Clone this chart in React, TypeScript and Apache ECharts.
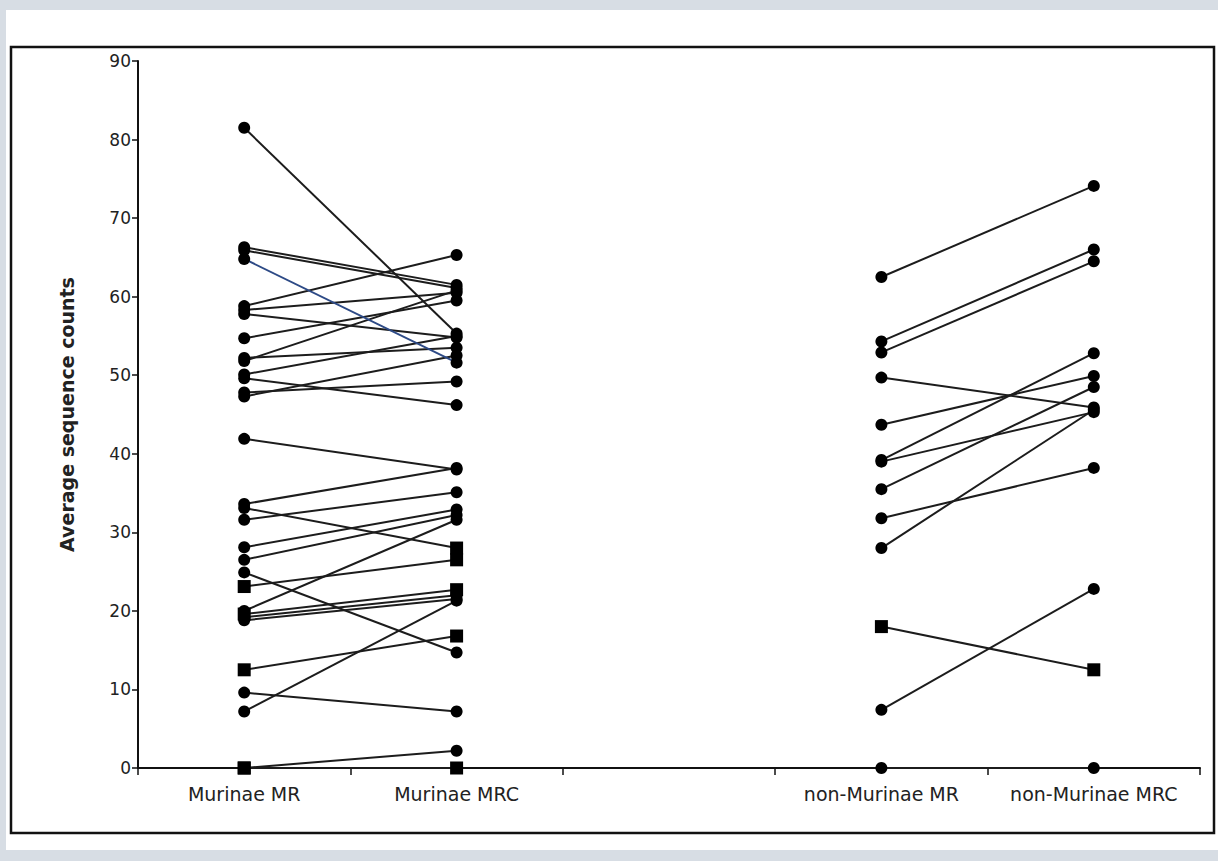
import React, { useEffect, useRef } from "react";
import * as echarts from "echarts";

const categories = ["Murinae MR", "Murinae MRC", "", "non-Murinae MR", "non-Murinae MRC"];

// Murinae pairs (MR -> MRC)
const murinaeMR = [81.5, 66.3, 65.9, 64.8, 58.8, 58.3, 57.8, 54.7, 52.2, 51.8, 50.1, 49.6, 47.8, 47.3, 41.9, 33.6, 33.1, 31.6, 28.1, 26.5, 24.9, 23.1, 20.0, 19.6, 19.2, 18.8, 12.5, 9.6, 7.2, 0, 0];
const murinaeMRC = [55.3, 61.5, 61.1, 51.6, 65.3, 60.5, 54.8, 59.5, 53.5, 60.8, 55.0, 46.2, 49.2, 52.5, 38.0, 38.2, 28.0, 35.1, 32.9, 32.2, 14.7, 26.5, 31.6, 22.7, 22.0, 21.5, 16.8, 7.2, 21.3, 2.2, 0];
const murinaeSquareMR = [21, 23, 26, 29, 30];
const murinaeSquareMRC = [16, 21, 23, 26, 30];
const murinaeBlue = [3];

// non-Murinae pairs (MR -> MRC)
const nonMurinaeMR = [62.5, 54.3, 52.9, 49.7, 43.7, 39.2, 39.0, 35.5, 31.8, 28.0, 18.0, 7.4, 0];
const nonMurinaeMRC = [74.1, 66.0, 64.5, 45.9, 49.9, 52.8, 45.3, 48.5, 38.2, 45.6, 12.5, 22.8, 0];
const nonMurinaeSquareMR = [10];
const nonMurinaeSquareMRC = [10];

const yTicks = [0, 10, 20, 30, 40, 50, 60, 70, 80, 90];

const FONT = "DejaVu Sans";

function pairSeries(
  a: number[],
  b: number[],
  xa: number,
  xb: number,
  sqA: number[],
  sqB: number[],
  blue: number[],
  prefix: string
) {
  return a.map((v, i) => ({
    name: prefix + " " + (i + 1),
    type: "line",
    symbolSize: 12,
    lineStyle: { color: blue.includes(i) ? "#2d4a86" : "#1c1c1c", width: 2 },
    itemStyle: { color: "#000" },
    z: blue.includes(i) ? 3 : 2,
    data: [
      { value: [xa, v], symbol: sqA.includes(i) ? "rect" : "circle", symbolSize: sqA.includes(i) ? 13 : 12 },
      { value: [xb, b[i]], symbol: sqB.includes(i) ? "rect" : "circle", symbolSize: sqB.includes(i) ? 13 : 12 },
    ],
  }));
}

export default function App() {
  const ref = useRef<HTMLDivElement>(null);
  useEffect(() => {
    if (!ref.current) return;
    const chart = echarts.init(ref.current, undefined, { renderer: "svg" });
    const series = [
      ...pairSeries(murinaeMR, murinaeMRC, 0, 1, murinaeSquareMR, murinaeSquareMRC, murinaeBlue, "Murinae"),
      ...pairSeries(nonMurinaeMR, nonMurinaeMRC, 3, 4, nonMurinaeSquareMR, nonMurinaeSquareMRC, [], "non-Murinae"),
    ];
    chart.setOption({
      animation: false,
      backgroundColor: "#d7dde4",
      graphic: [
        {
          type: "rect",
          z: -10,
          silent: true,
          shape: { x: 6, y: 10, width: 1212, height: 840 },
          style: { fill: "#ffffff" },
        },
        {
          type: "rect",
          z: -9,
          silent: true,
          shape: { x: 11, y: 47, width: 1203, height: 786 },
          style: { fill: "#ffffff", stroke: "#111", lineWidth: 2.5 },
        },
      ],
      grid: { left: 138, right: 18, top: 61, bottom: 93, containLabel: false },
      xAxis: {
        type: "category",
        data: categories,
        boundaryGap: true,
        axisLine: { show: true, lineStyle: { color: "#111", width: 2 } },
        axisTick: { show: true, length: 7, interval: 0, lineStyle: { color: "#111", width: 1.5 } },
        axisLabel: { interval: 0, fontSize: 19, fontFamily: FONT, color: "#222", margin: 16 },
        splitLine: { show: false },
      },
      yAxis: {
        type: "value",
        min: yTicks[0],
        max: yTicks[yTicks.length - 1],
        interval: 10,
        name: "Average sequence counts",
        nameLocation: "middle",
        nameGap: 62,
        nameTextStyle: { fontSize: 19, fontFamily: FONT, fontWeight: "bold", color: "#222" },
        axisLine: { show: true, lineStyle: { color: "#111", width: 2 } },
        axisTick: { show: true, length: 6, lineStyle: { color: "#111", width: 1.5 } },
        axisLabel: { fontSize: 17, fontFamily: FONT, color: "#222", margin: 7 },
        splitLine: { show: false },
      },
      series,
    });
    return () => chart.dispose();
  }, []);
  return (
    <div
      ref={ref}
      style={{ position: "absolute", left: 0, top: 0, width: 1218, height: 861 }}
    />
  );
}
